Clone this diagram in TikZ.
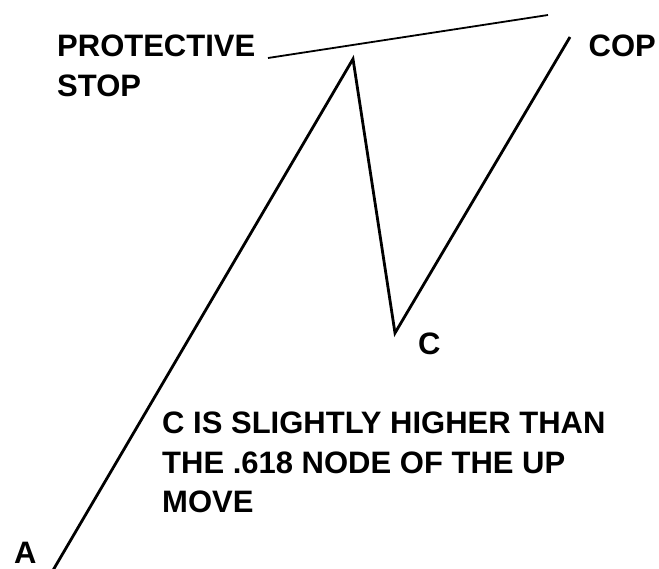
\documentclass[tikz,border=0pt]{standalone}
\usepackage{fontspec}
\setmainfont{Liberation Sans}
\usepackage{tikz}
\usetikzlibrary{positioning}
\tikzset{
  leg/.style={draw=black,line width=2.8pt,line join=miter},
  stopln/.style={draw=black,line width=1.8pt},
  lbl/.style={inner sep=0pt,anchor=north west,align=left,font=\fontsize{31}{39.5}\selectfont\bfseries},
}
\begin{document}
\begin{tikzpicture}[x=1pt,y=-1pt]
        \useasboundingbox (0,0) rectangle (659,569);
        \coordinate (a) at (52,572);
        \coordinate (b) at (353,59);
        \coordinate (c) at (395,333);
        \coordinate (cop) at (570,37);
        \coordinate (s1) at (268,58);
        \coordinate (s2) at (548,15);
        \draw[leg] (a)--(b)--(c)--(cop);
        \draw[stopln] (s1)--(s2);
        \node[lbl] (prot) at (57,35) {PROTECTIVE\\STOP};
        \node[lbl,anchor=north east] (copl) at (656,35) {COP};
        \node[lbl] (cl) at (418,333) {C};
        \node[lbl] (al) at (14,542) {A};
        \node[lbl] (note) at (162,412) {C IS SLIGHTLY HIGHER THAN\\THE .618 NODE OF THE UP\\MOVE};
      \end{tikzpicture}
\end{document}
